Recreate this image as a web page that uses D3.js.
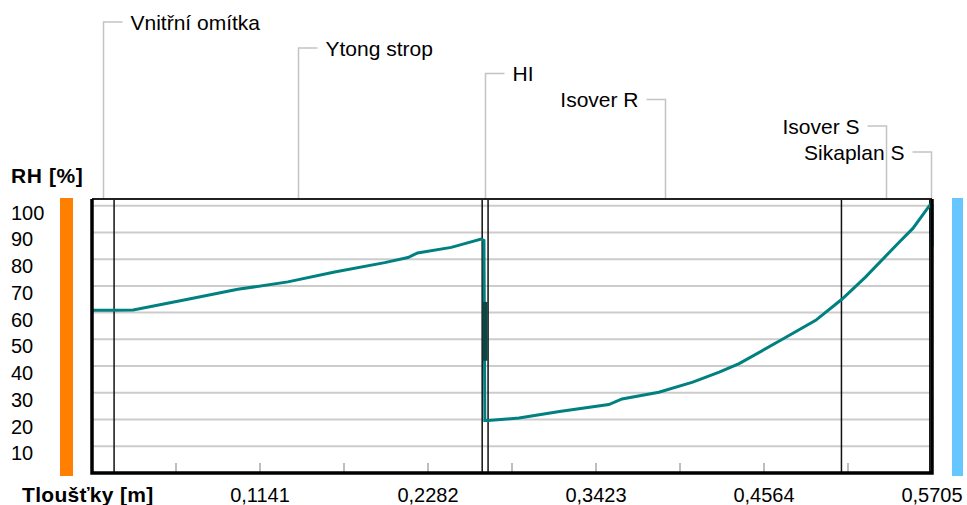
<!DOCTYPE html>
<html>
<head>
<meta charset="utf-8">
<script src="https://cdn.jsdelivr.net/npm/d3@7"></script>
<style>
  html, body { margin: 0; padding: 0; background: #fff; }
  #chart { width: 967px; height: 505px; }
</style>
</head>
<body>
<div id="chart"></div>
<script>
// -- Data ----------------------------------------------------------
var LAYER_NAMES = ["Vnitřní omítka", "Ytong strop", "HI", "Isover R", "Isover S", "Sikaplan S"];
var LAYER_THICKNESS = [0.015, 0.25, 0.004, 0.24, 0.06, 0.0015];   // m
var TOTAL = 0.5705;

// RH profile through the wall (x = depth in m, rh = %)
var RH_X = [0, 0.015, 0.028, 0.0651, 0.099, 0.133, 0.1648, 0.1988, 0.2146, 0.2211, 0.244, 0.2643, 0.2662,
            0.2668, 0.269, 0.290, 0.3175, 0.351, 0.360, 0.385, 0.408, 0.426, 0.4395, 0.4695, 0.4915,
            0.5093, 0.5253, 0.5485, 0.5575, 0.569, 0.5705, 0.5705];
var RH_Y = [60.9, 60.9, 61.0, 65.0, 68.7, 71.5, 75.2, 78.7, 80.6, 82.3, 84.4, 87.5, 87.0,
            19.6, 19.6, 20.6, 23.0, 25.6, 27.7, 30.2, 34.0, 37.7, 40.9, 50.2, 57.1,
            65.0, 73.3, 86.5, 91.5, 100.2, 100.2, 84.7];

// dark overlap band on the HI layer (RH range)
var HI_BAND = [64, 42];

var Y_TICKS = [10, 20, 30, 40, 50, 60, 70, 80, 90, 100];
var X_TICK_COUNT = 10;          // minor ticks every TOTAL / 10
var X_LABEL_EVERY = 2;          // labelled every second tick

// -- Render --------------------------------------------------------
(function () {
  var W = 967, H = 505;
  var margin = { top: 199, right: 35, bottom: 32, left: 92 };
  var innerW = W - margin.left - margin.right;   // 840
  var innerH = H - margin.top - margin.bottom;   // 274

  var FONT = "'Liberation Sans', Arial, sans-serif";
  var TEAL = "#008080";

  var svg = d3.select("#chart").append("svg")
    .attr("width", W).attr("height", H);

  var x = d3.scaleLinear().domain([0, TOTAL]).range([margin.left, margin.left + innerW]);
  var y = d3.scaleLinear().domain([0, 102.5]).range([margin.top + innerH, margin.top]);

  var cz = d3.formatLocale({ decimal: ",", thousands: " ", grouping: [3], currency: ["", " Kč"] });
  var fmt = cz.format(".4f");

  // layer boundaries
  var bounds = [0];
  LAYER_THICKNESS.forEach(function (t, i) { bounds.push(+(bounds[i] + t).toFixed(5)); });

  // -- Side bars (interior / exterior) -----------------------------
  svg.append("rect")
    .attr("x", 60).attr("y", y(102.5) - 1)
    .attr("width", 13).attr("height", y(0) - y(102.5) + 4)
    .attr("fill", "#ff8000");
  svg.append("rect")
    .attr("x", 952).attr("y", y(102.5) - 1)
    .attr("width", 11).attr("height", y(0) - y(102.5) + 4)
    .attr("fill", "#66c6ff");

  // -- Gridlines ---------------------------------------------------
  svg.append("g").selectAll("line")
    .data(Y_TICKS)
    .join("line")
      .attr("x1", x(0)).attr("x2", x(TOTAL))
      .attr("y1", function (d) { return y(d); })
      .attr("y2", function (d) { return y(d); })
      .attr("stroke", "#cccccc")
      .attr("stroke-width", 2);

  // Y labels (left aligned, hanging just under gridline)
  svg.append("g").selectAll("text")
    .data(Y_TICKS)
    .join("text")
      .attr("x", 11)
      .attr("y", function (d) { return y(d) + 14; })
      .attr("font-family", FONT)
      .attr("font-size", "20px")
      .attr("fill", "#000")
      .text(function (d) { return d; });

  // X minor ticks
  var tickVals = d3.range(1, X_TICK_COUNT).map(function (i) { return TOTAL * i / X_TICK_COUNT; });
  svg.append("g").selectAll("line")
    .data(tickVals)
    .join("line")
      .attr("x1", function (d) { return x(d); })
      .attr("x2", function (d) { return x(d); })
      .attr("y1", y(0) - 10).attr("y2", y(0))
      .attr("stroke", "#a8a8a8")
      .attr("stroke-width", 1.5);

  // X labels
  var labelVals = d3.range(X_LABEL_EVERY, X_TICK_COUNT + 1, X_LABEL_EVERY)
    .map(function (i) { return TOTAL * i / X_TICK_COUNT; });
  svg.append("g").selectAll("text")
    .data(labelVals)
    .join("text")
      .attr("x", function (d) { return x(d); })
      .attr("y", 502)
      .attr("text-anchor", "middle")
      .attr("font-family", FONT)
      .attr("font-size", "20px")
      .attr("fill", "#000")
      .text(function (d) { return fmt(d); });

  // -- Layer boundaries --------------------------------------------
  svg.append("g").selectAll("line")
    .data(bounds.slice(1, bounds.length - 1))
    .join("line")
      .attr("x1", function (d) { return x(d); })
      .attr("x2", function (d) { return x(d); })
      .attr("y1", y(102.5)).attr("y2", y(0))
      .attr("stroke", "#111")
      .attr("stroke-width", 1.5);

  // -- Leader lines + layer names ----------------------------------
  var levelY = [22, 48, 73.5, 99.5, 126, 152];
  LAYER_NAMES.forEach(function (name, i) {
    var cx = Math.round(x((bounds[i] + bounds[i + 1]) / 2)) + 0.5;
    var ly = levelY[i];
    var toLeft = i >= 3;
    var hx = toLeft ? cx - 19 : cx + 19;
    svg.append("path")
      .attr("d", "M" + cx + "," + (y(102.5) - 1) + "V" + ly + "H" + hx)
      .attr("fill", "none")
      .attr("stroke", "#c4c4c4")
      .attr("stroke-width", 1.5);
    svg.append("text")
      .attr("x", toLeft ? hx - 8 : hx + 8)
      .attr("y", ly + 7.5)
      .attr("text-anchor", toLeft ? "end" : "start")
      .attr("font-family", FONT)
      .attr("font-size", "21px")
      .attr("fill", "#000")
      .text(name);
  });

  // -- RH curve ----------------------------------------------------
  var pts = RH_X.map(function (v, i) { return [v, RH_Y[i]]; });
  svg.append("path")
    .datum(pts)
    .attr("d", d3.line()
      .x(function (d) { return x(d[0]); })
      .y(function (d) { return y(d[1]); }))
    .attr("fill", "none")
    .attr("stroke", TEAL)
    .attr("stroke-width", 3)
    .attr("stroke-linejoin", "miter");

  // dark overlap on the HI layer
  var hiMid = (bounds[2] + bounds[3]) / 2;
  svg.append("line")
    .attr("x1", x(hiMid)).attr("x2", x(hiMid))
    .attr("y1", y(HI_BAND[0])).attr("y2", y(HI_BAND[1]))
    .attr("stroke", "#0c4747")
    .attr("stroke-width", 5);

  // -- Frame -------------------------------------------------------
  svg.append("line")
    .attr("x1", x(0)).attr("x2", x(TOTAL))
    .attr("y1", y(102.5)).attr("y2", y(102.5))
    .attr("stroke", "#222").attr("stroke-width", 2);
  svg.append("path")
    .attr("d", "M" + x(0) + "," + y(102.5) + "V" + y(0) + "H" + x(TOTAL) + "V" + y(102.5))
    .attr("fill", "none")
    .attr("stroke", "#000")
    .attr("stroke-width", 3.5);

  // -- Axis titles -------------------------------------------------
  svg.append("text")
    .attr("x", 11).attr("y", 183)
    .attr("font-family", FONT)
    .attr("font-size", "21px")
    .attr("font-weight", "bold")
    .attr("letter-spacing", "0.6px")
    .text("RH [%]");
  svg.append("text")
    .attr("x", 22).attr("y", 502)
    .attr("font-family", FONT)
    .attr("font-size", "21px")
    .attr("font-weight", "bold")
    .attr("letter-spacing", "0.3px")
    .text("Tloušťky [m]");
})();
</script>
</body>
</html>
